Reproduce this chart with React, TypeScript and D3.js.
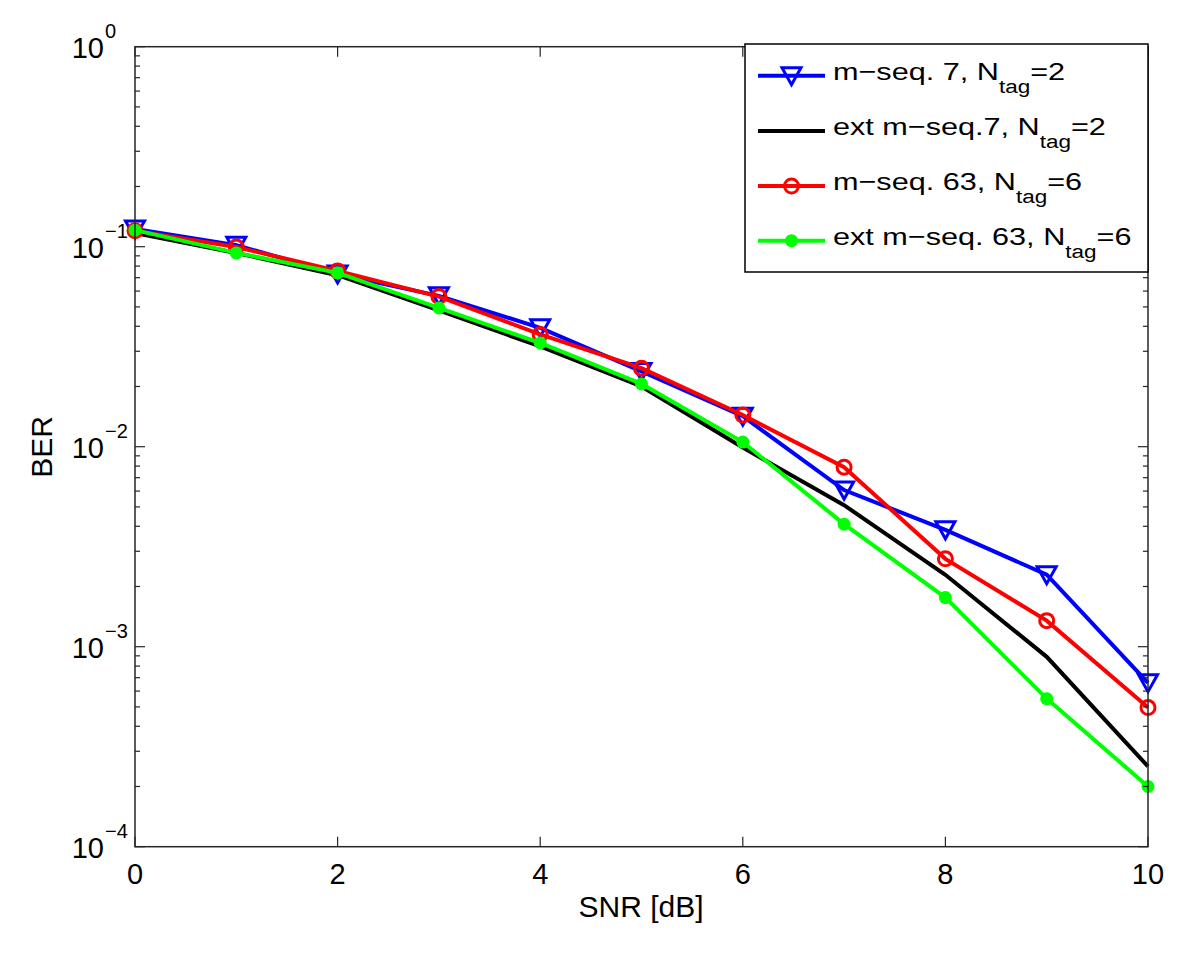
import React from "react";
import * as d3 from "d3";

const snr = [0, 1, 2, 3, 4, 5, 6, 7, 8, 9, 10];
const mseq7 = [0.1227, 0.1018, 0.073, 0.0568, 0.0393, 0.0238, 0.0142, 0.00607, 0.00384, 0.00229, 0.00066];
const extMseq7 = [0.117, 0.093, 0.072, 0.048, 0.0317, 0.02, 0.0099, 0.0051, 0.00229, 0.00089, 0.000252];
const mseq63 = [0.12, 0.0996, 0.0757, 0.0563, 0.0364, 0.0247, 0.0144, 0.0079, 0.00275, 0.00135, 0.000496];
const extMseq63 = [0.121, 0.0931, 0.074, 0.0494, 0.033, 0.0206, 0.01055, 0.0041, 0.00176, 0.00055, 0.0002];
const xTicks = [0, 2, 4, 6, 8, 10];
const yDecades = [0, -1, -2, -3, -4];

type Series = { name: string; sub: string; tail: string; values: number[]; color: string; marker: "tri" | "none" | "circle" | "dot" };
const series: Series[] = [
  { name: "m\u2212seq. 7, N", sub: "tag", tail: "=2", values: mseq7, color: "#0000ff", marker: "tri" },
  { name: "ext m\u2212seq.7, N", sub: "tag", tail: "=2", values: extMseq7, color: "#000000", marker: "none" },
  { name: "m\u2212seq. 63, N", sub: "tag", tail: "=6", values: mseq63, color: "#ff0000", marker: "circle" },
  { name: "ext m\u2212seq. 63, N", sub: "tag", tail: "=6", values: extMseq63, color: "#00ff00", marker: "dot" },
];

const L = 135, R = 1148, T = 46.7, B = 846.7;
const FONT = "'Liberation Sans', Arial, Helvetica, sans-serif";

function Marker({ kind, x, y, color }: { kind: string; x: number; y: number; color: string }) {
  if (kind === "tri")
    return <path d={`M${x - 9.5},${y - 8} L${x + 9.5},${y - 8} L${x},${y + 9} Z`} fill="none" stroke={color} strokeWidth={3} strokeLinejoin="miter" />;
  if (kind === "circle") return <circle cx={x} cy={y} r={7} fill="none" stroke={color} strokeWidth={3} />;
  if (kind === "dot") return <circle cx={x} cy={y} r={6.5} fill={color} />;
  return null;
}

export default function App() {
  const x = d3.scaleLinear().domain([0, 10]).range([L, R]);
  const y = d3.scaleLog().domain([1e-4, 1]).range([B, T]);
  const line = (vals: number[]) =>
    d3.line<number>().x((_, i) => x(snr[i])).y((d) => y(d))(vals) || "";

  const minor: number[] = [];
  for (let e = -4; e < 0; e++) for (let m = 2; m <= 9; m++) minor.push(m * Math.pow(10, e));

  const axisColor = "#262626";
  const legX = 745, legY = 44, legW = 403, legH = 228;
  const rowY = [75.7, 131, 186, 240.7];
  const textX = 833;

  return (
    <div style={{ position: "absolute", left: 0, top: 0 }}>
      <svg width={1200} height={955} style={{ display: "block", background: "#fff" }} fontFamily={FONT}>
        <rect x={0} y={0} width={1200} height={955} fill="#fff" />
        {series.map((s) => (
          <g key={s.name}>
            <path d={line(s.values)} fill="none" stroke={s.color} strokeWidth={4} strokeLinejoin="miter" />
            {s.values.map((v, i) => (
              <Marker key={i} kind={s.marker} x={x(snr[i])} y={y(v)} color={s.color} />
            ))}
          </g>
        ))}
        <rect x={L} y={T} width={R - L} height={B - T} fill="none" stroke={axisColor} strokeWidth={1.5} />
        {xTicks.map((t) => (
          <g key={t}>
            <line x1={x(t)} x2={x(t)} y1={B} y2={B - 10} stroke={axisColor} strokeWidth={1.2} />
            <line x1={x(t)} x2={x(t)} y1={T} y2={T + 10} stroke={axisColor} strokeWidth={1.2} />
            <text x={x(t)} y={884} fontSize={29} textAnchor="middle" fill="#000">{t}</text>
          </g>
        ))}
        {yDecades.map((e) => {
          const yy = y(Math.pow(10, e));
          return (
            <g key={e}>
              <line x1={L} x2={L + 10} y1={yy} y2={yy} stroke={axisColor} strokeWidth={1.2} />
              <line x1={R} x2={R - 10} y1={yy} y2={yy} stroke={axisColor} strokeWidth={1.2} />
              <text x={104} y={yy + 11} fontSize={29} textAnchor="end" fill="#000">10</text>
              <text x={105} y={yy - 9} fontSize={20} textAnchor="start" fill="#000">{e === 0 ? "0" : `\u2212${-e}`}</text>
            </g>
          );
        })}
        {minor.map((m, i) => (
          <g key={i}>
            <line x1={L} x2={L + 5} y1={y(m)} y2={y(m)} stroke={axisColor} strokeWidth={1.2} />
            <line x1={R} x2={R - 5} y1={y(m)} y2={y(m)} stroke={axisColor} strokeWidth={1.2} />
          </g>
        ))}
        <text x={641} y={917} fontSize={30} textAnchor="middle" fill="#000">SNR [dB]</text>
        <text transform="translate(52,447) rotate(-90)" fontSize={30} textAnchor="middle" fill="#000">BER</text>
        <rect x={legX} y={legY} width={legW} height={legH} fill="#fff" stroke="#000" strokeWidth={1.5} />
        {series.map((s, i) => (
          <g key={s.name}>
            <line x1={758} x2={825} y1={rowY[i]} y2={rowY[i]} stroke={s.color} strokeWidth={4} />
            <Marker kind={s.marker} x={791.5} y={rowY[i]} color={s.color} />
            <g transform={`translate(${textX},${rowY[i] + 4}) scale(1.25,1)`}>
              <text x={0} y={0} fontSize={24.5} fill="#000">
                {s.name}
                <tspan fontSize={18} dy={13}>{s.sub}</tspan>
                <tspan fontSize={24.5} dy={-13}>{s.tail}</tspan>
              </text>
            </g>
          </g>
        ))}
      </svg>
    </div>
  );
}
